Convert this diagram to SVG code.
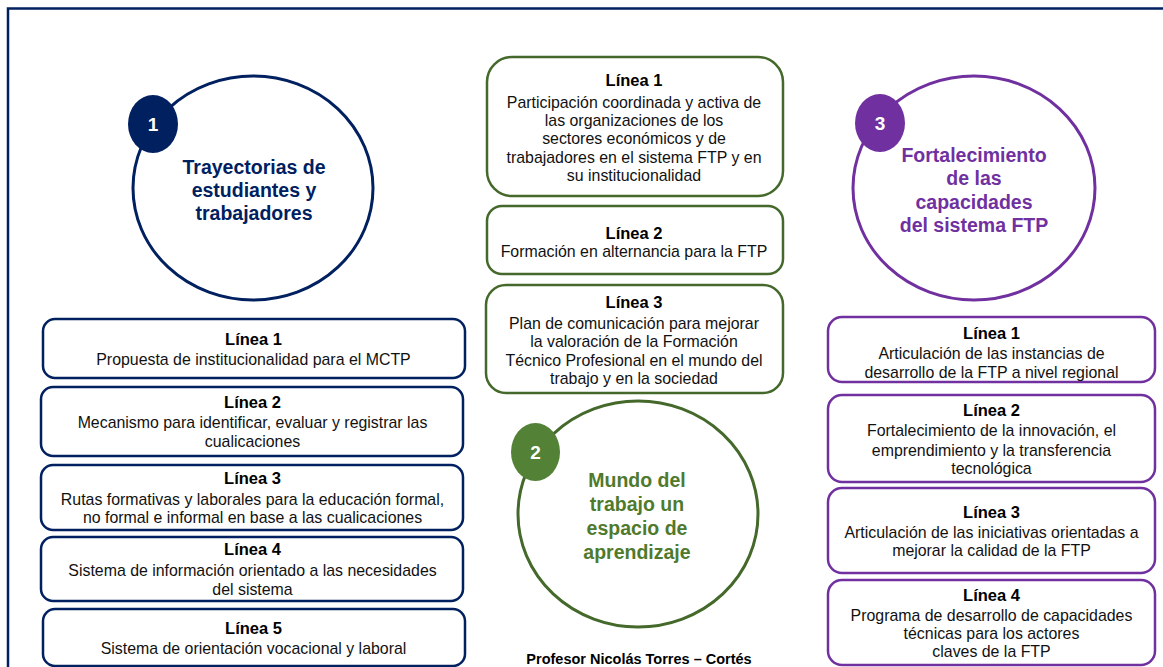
<svg xmlns="http://www.w3.org/2000/svg" width="1163" height="667" viewBox="0 0 1163 667">
<style>
  text { font-family: "Liberation Sans", Arial, sans-serif; text-anchor: middle; }
  .t { font-size: 16.5px; font-weight: bold; fill: #000; }
  .b { font-size: 15.9px; fill: #111; }
  .big { font-size: 19.5px; font-weight: bold; }
  .num { font-size: 19px; font-weight: bold; fill: #fff; }
  .nb { fill: #fff; stroke: #002060; stroke-width: 2.5; }
  .gb { fill: #fff; stroke: #44692b; stroke-width: 2.5; }
  .pb { fill: #fff; stroke: #7030a0; stroke-width: 2.5; }
</style>
<rect x="0" y="0" width="1163" height="667" fill="#fff"/>
<rect id="frame" x="8" y="8.5" width="1200" height="700" fill="none" stroke="#002060" stroke-width="2.5"/>

<g id="connectors"></g>

<g id="pillar1">
  <ellipse cx="253" cy="188" rx="120" ry="112" fill="#fff" stroke="#002060" stroke-width="3"/>
  <ellipse cx="153" cy="124" rx="25" ry="29" fill="#002060"/>
  <text class="num" x="153" y="131">1</text>
  <text class="big" fill="#002060" x="254" y="173.5">Trayectorias de</text>
  <text class="big" fill="#002060" x="254" y="196.8">estudiantes y</text>
  <text class="big" fill="#002060" x="254" y="219.5">trabajadores</text>
</g>

<g id="pillar2">
  <ellipse cx="638" cy="514" rx="120" ry="113" fill="#fff" stroke="#44692b" stroke-width="3"/>
  <ellipse cx="535.5" cy="452" rx="24.5" ry="29" fill="#538135"/>
  <text class="num" x="535.5" y="459">2</text>
  <text class="big" fill="#4f7a2c" x="637" y="486.7">Mundo del</text>
  <text class="big" fill="#4f7a2c" x="637" y="510.7">trabajo un</text>
  <text class="big" fill="#4f7a2c" x="637" y="534.7">espacio de</text>
  <text class="big" fill="#4f7a2c" x="637" y="558.7">aprendizaje</text>
</g>

<g id="pillar3">
  <ellipse cx="974" cy="188" rx="121" ry="112" fill="#fff" stroke="#7030a0" stroke-width="3"/>
  <ellipse cx="880" cy="123" rx="25" ry="29" fill="#7030a0"/>
  <text class="num" x="880" y="130">3</text>
  <text class="big" fill="#7030a0" x="974" y="161.8">Fortalecimiento</text>
  <text class="big" fill="#7030a0" x="974" y="185">de las</text>
  <text class="big" fill="#7030a0" x="974" y="208.5">capacidades</text>
  <text class="big" fill="#7030a0" x="974" y="231.8">del sistema FTP</text>
</g>

<g id="l1">
  <rect class="nb" x="43" y="319" width="422" height="59" rx="12"/>
  <text class="t" x="253.5" y="344.5">Línea 1</text>
  <text class="b" x="253.5" y="364.5">Propuesta de institucionalidad para el MCTP</text>
</g>
<g id="l2">
  <rect class="nb" x="41" y="387" width="422" height="69" rx="12"/>
  <text class="t" x="252.5" y="407.7">Línea 2</text>
  <text class="b" x="252.5" y="428.2">Mecanismo para identificar, evaluar y registrar las</text>
  <text class="b" x="252.5" y="447.2">cualicaciones</text>
</g>
<g id="l3">
  <rect class="nb" x="41" y="465" width="422" height="65" rx="12"/>
  <text class="t" x="252.5" y="483.7">Línea 3</text>
  <text class="b" x="252.5" y="504.5">Rutas formativas y laborales para la educación formal,</text>
  <text class="b" x="252.5" y="523.2">no formal e informal en base a las cualicaciones</text>
</g>
<g id="l4">
  <rect class="nb" x="41" y="537" width="422" height="64" rx="12"/>
  <text class="t" x="252.5" y="555.3">Línea 4</text>
  <text class="b" x="252.5" y="575.5">Sistema de información orientado a las necesidades</text>
  <text class="b" x="252.5" y="594.8">del sistema</text>
</g>
<g id="l5">
  <rect class="nb" x="43" y="609" width="422" height="57" rx="12"/>
  <text class="t" x="253.5" y="634.3">Línea 5</text>
  <text class="b" x="253.5" y="653.8">Sistema de orientación vocacional y laboral</text>
</g>

<g id="c1">
  <rect class="gb" x="487" y="57" width="296" height="139" rx="25"/>
  <text class="t" x="634" y="86">Línea 1</text>
  <text class="b" x="634" y="108.2">Participación coordinada y activa de</text>
  <text class="b" x="634" y="126.3">las organizaciones de los</text>
  <text class="b" x="634" y="144.4">sectores económicos y de</text>
  <text class="b" x="634" y="162.5">trabajadores en el sistema FTP y en</text>
  <text class="b" x="634" y="180.6">su institucionalidad</text>
</g>
<g id="c2">
  <rect class="gb" x="487" y="206" width="296" height="68" rx="15"/>
  <text class="t" x="634" y="238.7">Línea 2</text>
  <text class="b" x="634" y="257.2">Formación en alternancia para la FTP</text>
</g>
<g id="c3">
  <rect class="gb" x="486" y="285" width="297" height="108" rx="20"/>
  <text class="t" x="634" y="307.7">Línea 3</text>
  <text class="b" x="634" y="328.8">Plan de comunicación para mejorar</text>
  <text class="b" x="634" y="347">la valoración de la Formación</text>
  <text class="b" x="634" y="365.5">Técnico Profesional en el mundo del</text>
  <text class="b" x="634" y="383.8">trabajo y en la sociedad</text>
</g>

<g id="r1">
  <rect class="pb" x="828" y="317" width="327" height="65" rx="14"/>
  <text class="t" x="991.5" y="338.7">Línea 1</text>
  <text class="b" x="991.5" y="358.8">Articulación de las instancias de</text>
  <text class="b" x="991.5" y="377.8">desarrollo de la FTP a nivel regional</text>
</g>
<g id="r2">
  <rect class="pb" x="828" y="395" width="327" height="87" rx="14"/>
  <text class="t" x="991.5" y="416">Línea 2</text>
  <text class="b" x="991.5" y="436.2">Fortalecimiento de la innovación, el</text>
  <text class="b" x="991.5" y="455.5">emprendimiento y la transferencia</text>
  <text class="b" x="991.5" y="473.8">tecnológica</text>
</g>
<g id="r3">
  <rect class="pb" x="828" y="488" width="327" height="85" rx="14"/>
  <text class="t" x="991.5" y="517.7">Línea 3</text>
  <text class="b" x="991.5" y="538.2">Articulación de las iniciativas orientadas a</text>
  <text class="b" x="991.5" y="556.2">mejorar la calidad de la FTP</text>
</g>
<g id="r4">
  <rect class="pb" x="828" y="580" width="327" height="85" rx="14"/>
  <text class="t" x="991.5" y="601">Línea 4</text>
  <text class="b" x="991.5" y="620.5">Programa de desarrollo de capacidades</text>
  <text class="b" x="991.5" y="638.8">técnicas para los actores</text>
  <text class="b" x="991.5" y="657.2">claves de la FTP</text>
</g>

<g id="author">
  <text x="639" y="664" font-size="14.5" font-weight="bold" fill="#000">Profesor Nicolás Torres – Cortés</text>
</g>
</svg>
